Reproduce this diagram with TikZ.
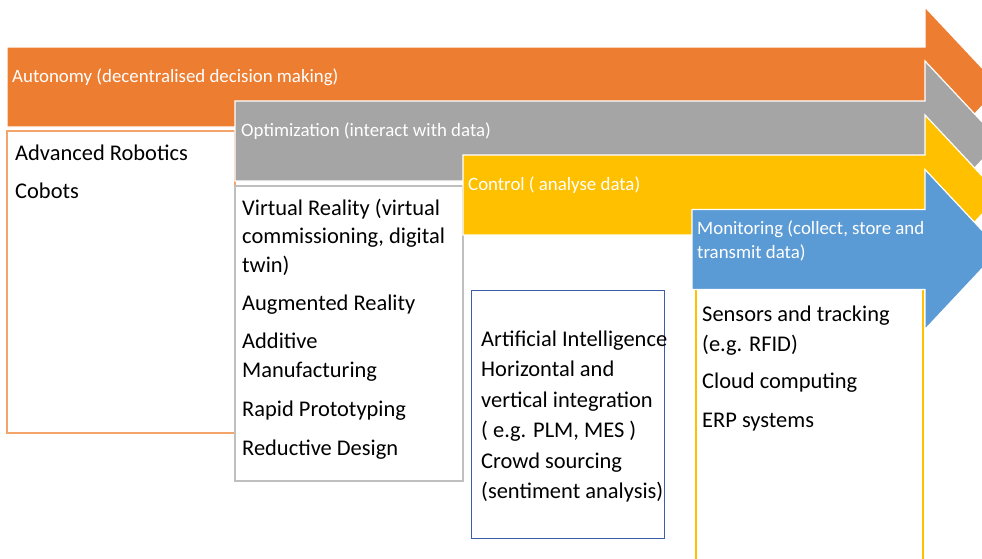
\documentclass[tikz,border=0pt]{standalone}
\usepackage{fontspec}
\setmainfont{Carlito}
\definecolor{stOrange}{HTML}{ED7D31}
\definecolor{stGray}{HTML}{A5A5A5}
\definecolor{stYellow}{HTML}{FFC000}
\definecolor{stBlue}{HTML}{5B9BD5}
\definecolor{edOrange}{HTML}{F4A46A}
\definecolor{edGray}{HTML}{BFBFBF}
\definecolor{edBlue}{HTML}{3A5FA8}
\definecolor{edYellow}{HTML}{FFC000}

% one stage arrow: left x, centre y, colour
\newcommand\stagearrow[3]{%
  \filldraw[fill=#3, draw=white, line width=1.2pt, line join=miter]
    (#1,#2-40) -- (925,#2-40) -- (925,#2-80) -- (1000,#2)
    -- (925,#2+80) -- (925,#2+40) -- (#1,#2+40) -- cycle;}

\begin{document}
\begin{tikzpicture}[x=1pt, y=-1pt,
  headtxt/.style={text=white, font=\fontsize{18.85}{24}\selectfont, inner sep=0pt, anchor=base west},
  itemtxt/.style={text=black, font=\fontsize{22.45}{26}\selectfont, inner sep=0pt, anchor=base west},
  boxline/.style={line width=1.1pt}]
\useasboundingbox (0,0) rectangle (982,558);
\clip (0,0) rectangle (982,558);

% Autonomy
\stagearrow{7}{87}{stOrange}
\node[headtxt] (hAut) at (12,82) {Autonomy (decentralised decision making)};
\draw[boxline, edOrange] (7,131) rectangle (235,433);
\foreach \yy/\tt [count=\i] in {160/Advanced Robotics, 198/Cobots}
  \node[itemtxt, name=aut\i] at (15,\yy) {\tt};

% Optimization
\stagearrow{235}{141}{stGray}
\node[headtxt] (hOpt) at (241,136.5) {Optimization (interact with data)};
\draw[boxline, edGray] (235,186) rectangle (463,481);
\foreach \yy/\tt [count=\i] in {215/{Virtual Reality (virtual}, 243.5/{commissioning, digital}, 272/{twin)},
    310.5/{Augmented Reality}, 348.5/{Additive}, 377.5/{Manufacturing}, 416.5/{Rapid Prototyping}, 455/{Reductive Design}}
  \node[itemtxt, name=opt\i] at (242,\yy) {\tt};

% Control
\stagearrow{463}{195}{stYellow}
\node[headtxt] (hCtl) at (468,190.5) {Control ( analyse data)};
\draw[line width=0.9pt, edBlue] (471.5,290) rectangle (664.5,538);
\foreach \yy/\tt [count=\i] in {346/{Artificial Intelligence}, 376.5/{Horizontal and}, 407/{vertical integration},
    437.5/{( e.g. PLM, MES )}, 468/{Crowd sourcing}, 498.5/{(sentiment analysis)}}
  \node[itemtxt, name=ctl\i] at (481,\yy) {\tt};

% Monitoring
\draw[boxline, edYellow] (696,285) rectangle (923,575);
\stagearrow{692}{249.5}{stBlue}
\node[headtxt] (hMon1) at (697,234) {Monitoring (collect, store and};
\node[headtxt] (hMon2) at (697,258) {transmit data)};
\foreach \yy/\tt [count=\i] in {321.5/{Sensors and tracking}, 351.5/{(e.g. RFID)}, 388.5/{Cloud computing}, 427/{ERP systems}}
  \node[itemtxt, name=mon\i] at (702,\yy) {\tt};
\end{tikzpicture}
\end{document}
